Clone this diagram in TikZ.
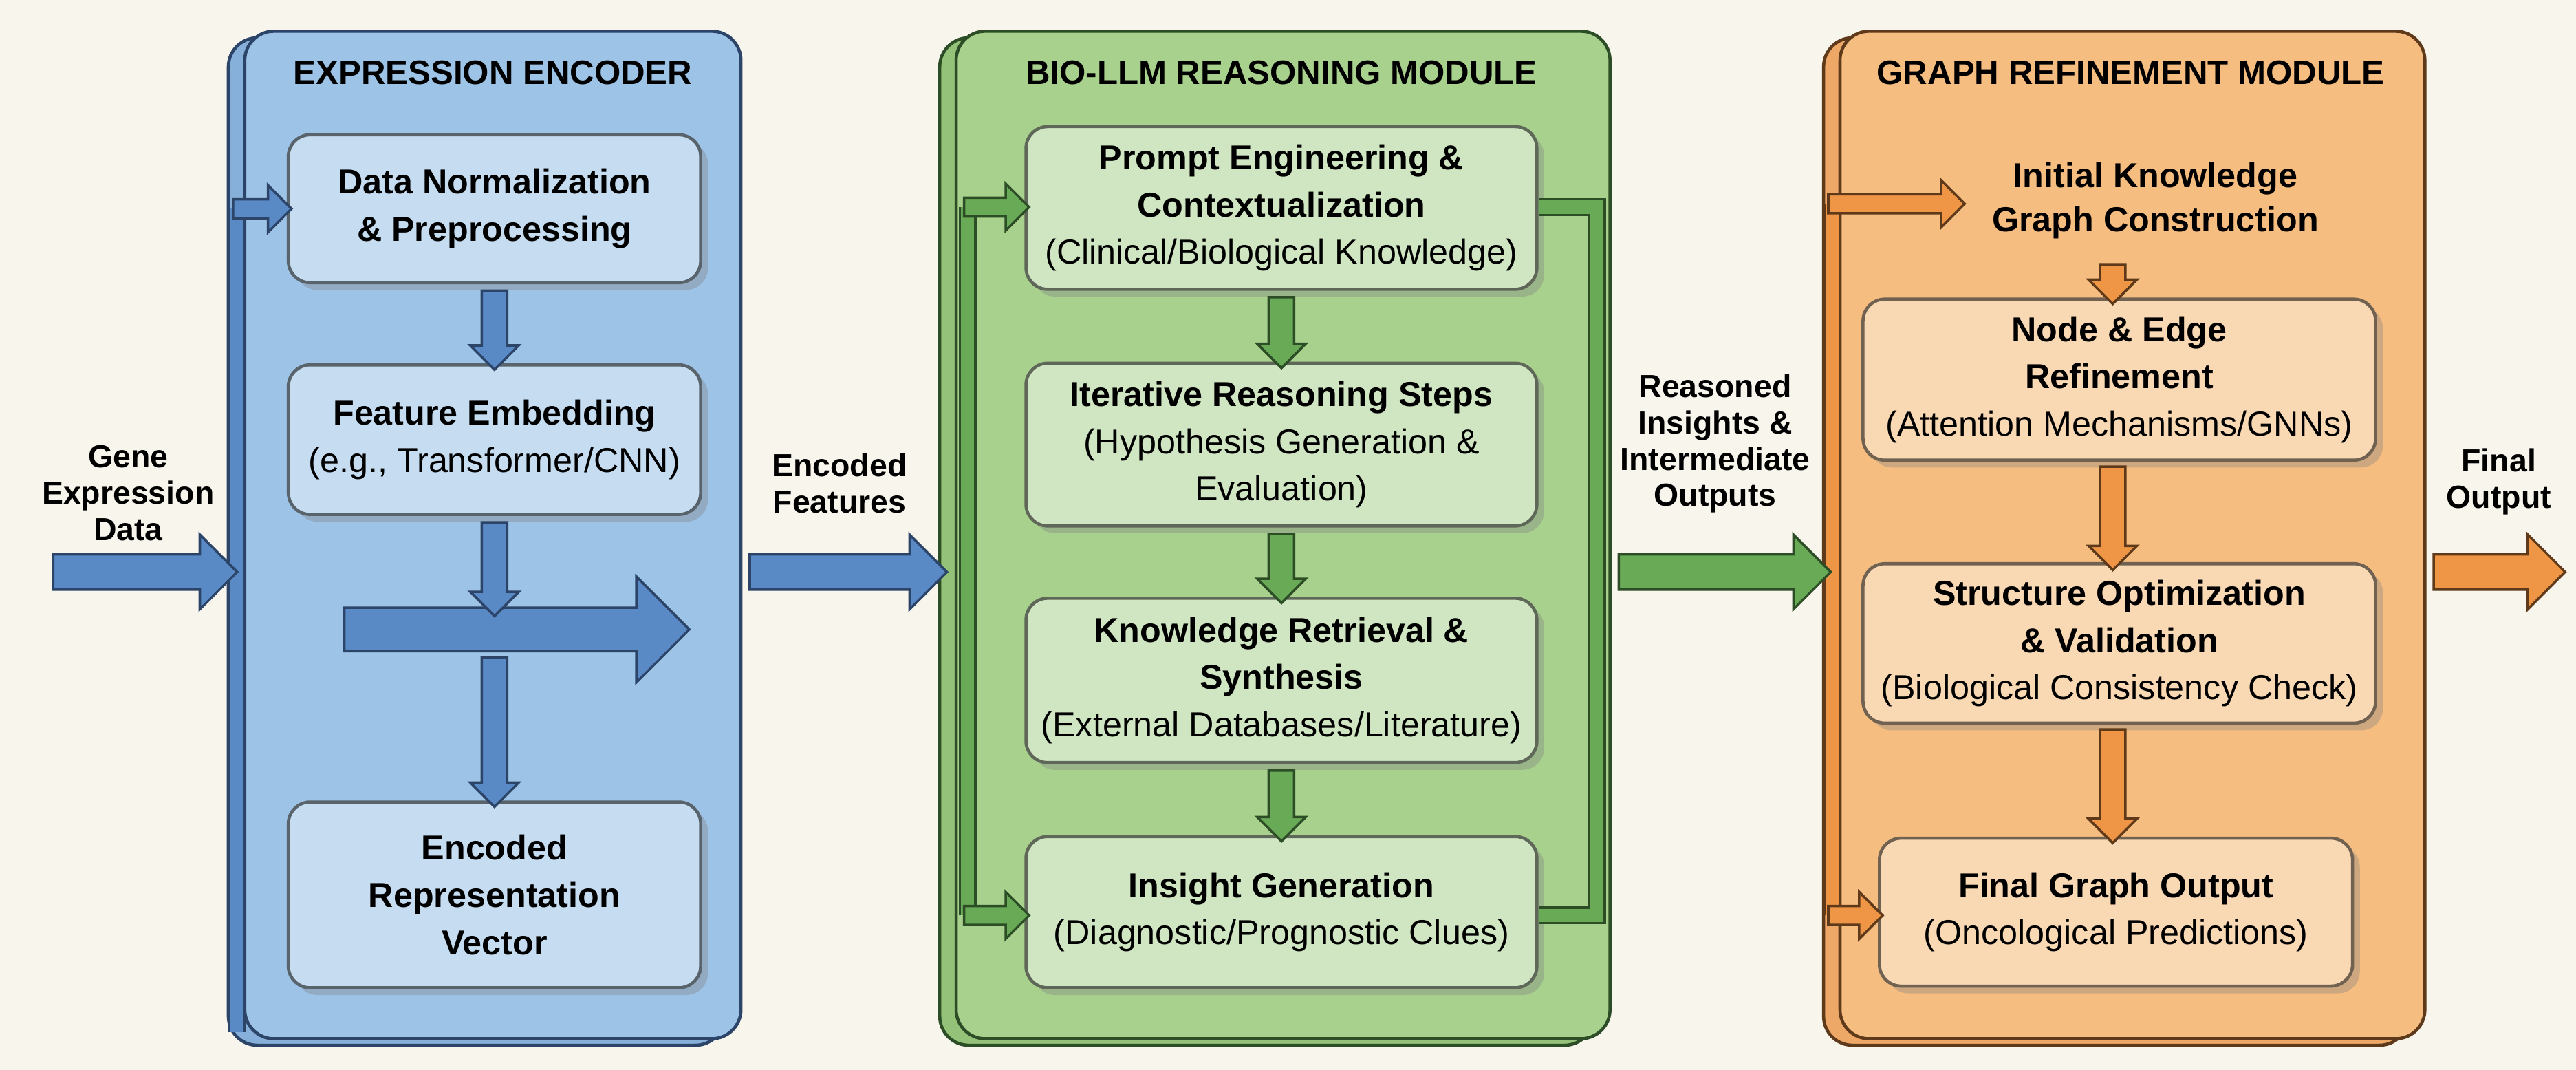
\documentclass[tikz,border=0pt]{standalone}
\usepackage{fontspec}
\setmainfont{Liberation Sans}
\usetikzlibrary{shapes.arrows,calc,shadows}
\definecolor{bg}{HTML}{F7F5EC}
\definecolor{bpan}{HTML}{9DC3E6}\definecolor{bpanb}{HTML}{86B0DA}
\definecolor{bbox}{HTML}{C6DCF0}\definecolor{barr}{HTML}{5A8AC6}\definecolor{bline}{HTML}{2B4468}
\definecolor{gpan}{HTML}{A9D18E}\definecolor{gpanb}{HTML}{93C278}
\definecolor{gbox}{HTML}{D0E6C3}\definecolor{garr}{HTML}{69AA57}\definecolor{gline}{HTML}{2C4D25}
\definecolor{opan}{HTML}{F6BD80}\definecolor{opanb}{HTML}{EDA868}
\definecolor{obox}{HTML}{F9D8B4}\definecolor{oarr}{HTML}{EE9645}\definecolor{oline}{HTML}{5E3A1A}
\newcommand\U{0.02388cm}
\tikzset{
  x=0.02388cm,y=-0.02388cm,
  panel/.style={rounded corners=12pt,line width=1.3pt},
  box/.style={draw=#1!45!black,rounded corners=9pt,line width=1.3pt,align=center,
     font=\fontsize{14.3}{19.5}\selectfont,inner sep=1pt,
     drop shadow={shadow xshift=3pt,shadow yshift=-3pt,opacity=.35}},
  ttl/.style={font=\bfseries\fontsize{14}{17}\selectfont},
  lbl/.style={font=\bfseries\fontsize{13.2}{15}\selectfont,align=center},
  barrow/.style={single arrow,draw=#1,line width=1pt,inner sep=0pt,outer sep=0pt,anchor=center},
  loop/.style={draw=#1,line width=1pt,double distance=8*\U},
}
% block arrow between two points
\newcommand\blockarrow[6]{% fill, line, from, to, shaft, head
  \path let \p1=#3, \p2=#4, \n1={veclen(\x2-\x1,\y2-\y1)}, \n2={atan2(\y2-\y1,\x2-\x1)} in
   node[barrow=#2,fill=#1,minimum height=\n1,minimum width=#6*\U,inner ysep=#5*\U/2,
        single arrow head extend={(#6-#5)*\U/2},rotate=\n2] at ($(\p1)!0.5!(\p2)$) {};}
\begin{document}
\begin{tikzpicture}
\fill[bg] (0,0) rectangle (1568,651);
\useasboundingbox (0,0) rectangle (1568,651);
% ---------- panels
\draw[panel,fill=bpanb,draw=bline] (139,23) rectangle (441,636);
\draw[panel,fill=bpan,draw=bline] (149,19) rectangle (451,632);
\draw[panel,fill=gpanb,draw=gline] (572,23) rectangle (970,636);
\draw[panel,fill=gpan,draw=gline] (582,19) rectangle (980,632);
\draw[panel,fill=opanb,draw=oline] (1110,23) rectangle (1466,636);
\draw[panel,fill=opan,draw=oline] (1120,19) rectangle (1476,632);
\node[ttl] (t1) at (300,44) {EXPRESSION ENCODER};
\node[ttl] (t2) at (780,44) {BIO-LLM REASONING MODULE};
\node[ttl] (t3) at (1297,44) {GRAPH REFINEMENT MODULE};
% ---------- left boxes
\node[box=bbox,fill=bbox,minimum width=251*\U,minimum height=90*\U] (b1) at (301,127)
  {\bfseries Data Normalization\\\bfseries \& Preprocessing};
\node[box=bbox,fill=bbox,minimum width=251*\U,minimum height=91*\U] (b2) at (301,267.5)
  {\bfseries Feature Embedding\\(e.g., Transformer/CNN)};
\node[box=bbox,fill=bbox,minimum width=251*\U,minimum height=113*\U] (b3) at (301,544.5)
  {\bfseries Encoded\\\bfseries Representation\\\bfseries Vector};
% ---------- middle boxes
\node[box=gbox,fill=gbox,minimum width=311*\U,minimum height=99*\U] (m1) at (780,126.5)
  {\bfseries Prompt Engineering \&\\\bfseries Contextualization\\(Clinical/Biological Knowledge)};
\node[box=gbox,fill=gbox,minimum width=311*\U,minimum height=99*\U] (m2) at (780,270.5)
  {\bfseries Iterative Reasoning Steps\\(Hypothesis Generation \&\\Evaluation)};
\node[box=gbox,fill=gbox,minimum width=311*\U,minimum height=100*\U] (m3) at (780,414)
  {\bfseries Knowledge Retrieval \&\\\bfseries Synthesis\\(External Databases/Literature)};
\node[box=gbox,fill=gbox,minimum width=311*\U,minimum height=92*\U] (m4) at (780,555)
  {\bfseries Insight Generation\\(Diagnostic/Prognostic Clues)};
% ---------- right boxes
\node[lbl,font=\bfseries\fontsize{14.3}{18}\selectfont] (r0) at (1312,122) {Initial Knowledge\\Graph Construction};
\node[box=obox,fill=obox,minimum width=312*\U,minimum height=98*\U] (r1) at (1290,231)
  {\bfseries Node \& Edge\\\bfseries Refinement\\(Attention Mechanisms/GNNs)};
\node[box=obox,fill=obox,minimum width=312*\U,minimum height=97*\U] (r2) at (1290,391.5)
  {\bfseries Structure Optimization\\\bfseries \& Validation\\(Biological Consistency Check)};
\node[box=obox,fill=obox,minimum width=288*\U,minimum height=90*\U] (r3) at (1288,555)
  {\bfseries Final Graph Output\\(Oncological Predictions)};
% ---------- outside labels
\node[lbl] (l1) at (78,300) {Gene\\Expression\\Data};
\node[lbl] (l2) at (511,294) {Encoded\\Features};
\node[lbl] (l3) at (1044,270) {Reasoned\\Insights \&\\Intermediate\\Outputs};
\node[lbl] (l4) at (1521,293) {Final\\Output};
% ---------- coordinates
\coordinate (in0) at (27,348); \coordinate (in1) at (139,348);
\coordinate (e0) at (451,348); \coordinate (e1) at (571,348);
\coordinate (g0) at (980,348); \coordinate (g1) at (1109,348);
\coordinate (f0) at (1476,348); \coordinate (f1) at (1556,348);
\coordinate (big0) at (203,383); \coordinate (big1) at (413,383);
\coordinate (bigt) at (301,371); \coordinate (bigb) at (301,396);
% ---------- loops
\draw[loop=bline,double=barr] (144,628) -- (144,127);
\draw[loop=gline,double=garr] (589,557) -- (589,126);
\draw[loop=gline,double=garr] (m1.east|-0,126) -- (972,126) -- (972,557) -- (m4.east|-0,557);
\draw[loop=oline,double=oarr] (1115,557) -- (1115,124);
\blockarrow{barr}{bline}{(139,127)}{(b1.west)}{10}{27}
\blockarrow{garr}{gline}{(584,126)}{(m1.west|-0,126)}{10}{27}
\blockarrow{garr}{gline}{(584,557)}{(m4.west|-0,557)}{10}{27}
\blockarrow{oarr}{oline}{(1110,124)}{(1193,124)}{10}{27}
\blockarrow{oarr}{oline}{(1110,557)}{(r3.west|-0,557)}{10}{27}
% ---------- main flow arrows
\blockarrow{barr}{bline}{(in0)}{(in1)}{20}{44}
\blockarrow{barr}{bline}{(e0)}{(e1)}{20}{44}
\blockarrow{garr}{gline}{(g0)}{(g1)}{20}{44}
\blockarrow{oarr}{oline}{(f0)}{(f1)}{20}{44}
\blockarrow{barr}{bline}{(b1.south)}{(b2.north)}{14}{28}
\blockarrow{barr}{bline}{(big0)}{(big1)}{25}{63}
\blockarrow{barr}{bline}{(b2.south)}{(bigt)}{14}{28}
\blockarrow{barr}{bline}{(bigb)}{(b3.north)}{14}{28}
\blockarrow{garr}{gline}{(m1.south)}{(m2.north)}{14}{28}
\blockarrow{garr}{gline}{(m2.south)}{(m3.north)}{14}{28}
\blockarrow{garr}{gline}{(m3.south)}{(m4.north)}{14}{28}
\blockarrow{oarr}{oline}{(1286,157)}{(1286,181)}{14}{28}
\blockarrow{oarr}{oline}{(1286,280)}{(1286,343)}{14}{28}
\blockarrow{oarr}{oline}{(1286,440)}{(r3.north-|1286,0)}{14}{28}
\end{tikzpicture}
\end{document}
